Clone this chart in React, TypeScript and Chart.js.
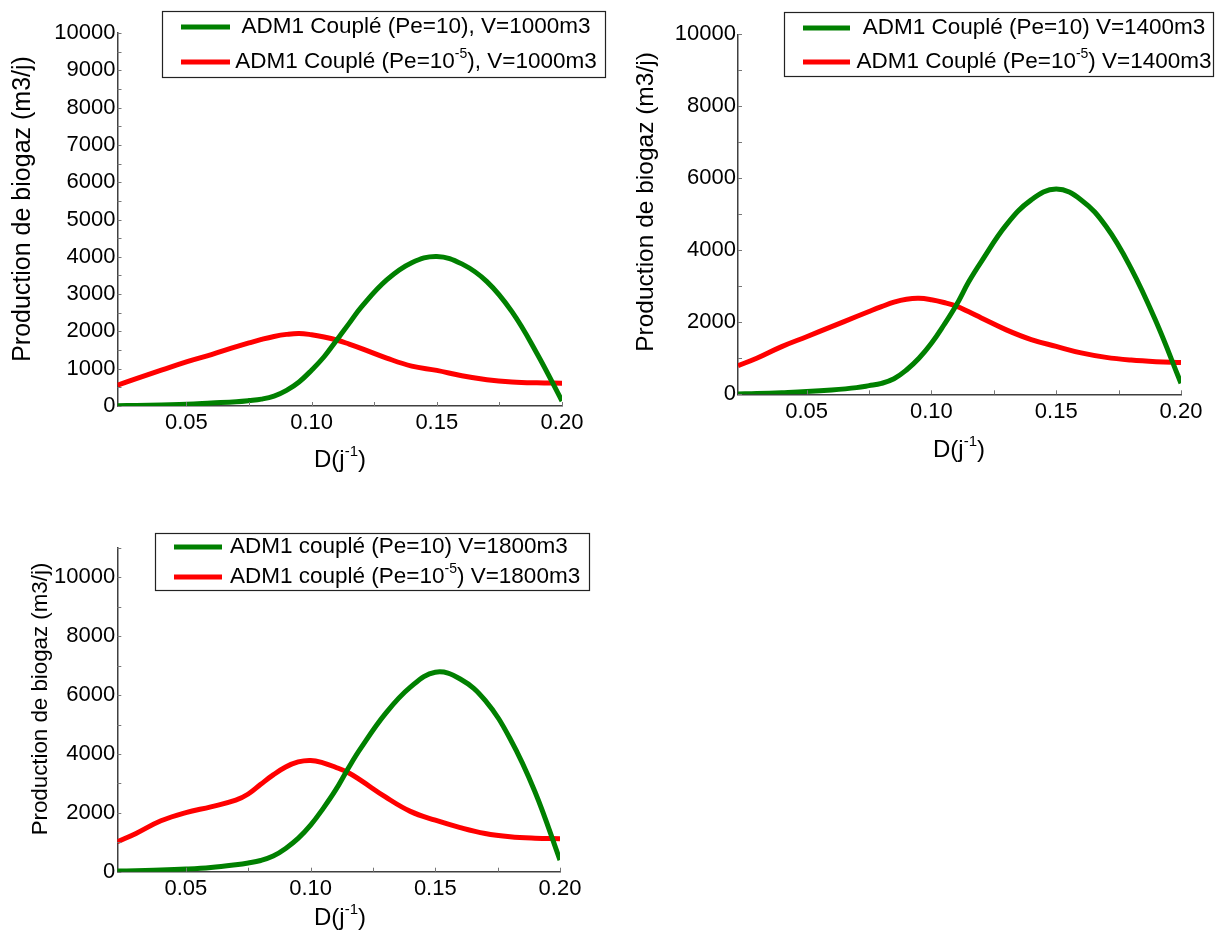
import React, { useEffect, useRef } from "react";
import { Chart, registerables } from "chart.js";

Chart.register(...registerables);

const FONT = "'Liberation Sans', Arial, sans-serif";

// Dilution rate D (j^-1)
const D = [0.0225, 0.03, 0.04, 0.05, 0.06, 0.07, 0.075, 0.08, 0.085, 0.09, 0.095, 0.1, 0.105, 0.11, 0.115, 0.12, 0.13, 0.14, 0.15, 0.16, 0.17, 0.18, 0.19, 0.2];

// V = 1000 m3
const green1000 = [10, 15, 30, 45, 80, 115, 145, 185, 265, 420, 645, 960, 1320, 1765, 2215, 2665, 3380, 3840, 4010, 3810, 3335, 2530, 1410, 135];
const red1000 = [560, 735, 960, 1185, 1380, 1590, 1690, 1785, 1865, 1920, 1945, 1910, 1850, 1770, 1660, 1540, 1285, 1070, 955, 810, 705, 645, 620, 612];
// V = 1400 m3
const green1400 = [10, 20, 45, 75, 120, 185, 240, 305, 430, 675, 1000, 1415, 1925, 2480, 3130, 3685, 4705, 5400, 5700, 5400, 4660, 3500, 2020, 305];
const red1400 = [795, 1000, 1325, 1600, 1880, 2160, 2300, 2435, 2560, 2640, 2665, 2625, 2550, 2450, 2290, 2120, 1790, 1520, 1330, 1150, 1025, 950, 905, 880];
// V = 1800 m3
const green1800 = [20, 35, 55, 90, 145, 235, 295, 380, 530, 790, 1130, 1580, 2145, 2770, 3500, 4180, 5370, 6270, 6780, 6550, 5820, 4520, 2710, 395];
const red1800 = [1015, 1300, 1730, 2010, 2205, 2430, 2640, 2970, 3290, 3560, 3730, 3780, 3700, 3550, 3370, 3110, 2540, 2050, 1750, 1500, 1300, 1190, 1140, 1120];

const xTickValues = [0.05, 0.1, 0.15, 0.2];
const xTickLabels = ["0.05", "0.10", "0.15", "0.20"];
const xMinorTicks = [0.075, 0.125, 0.175];

const yTicks1000 = [0, 1000, 2000, 3000, 4000, 5000, 6000, 7000, 8000, 9000, 10000];
const yLabels1000 = ["0", "1000", "2000", "3000", "4000", "5000", "6000", "7000", "8000", "9000", "10000"];
const yTicks2000 = [0, 2000, 4000, 6000, 8000, 10000];
const yLabels2000 = ["0", "2000", "4000", "6000", "8000", "10000"];

const legend1000 = ["ADM1 Couplé (Pe=10), V=1000m3", "ADM1 Couplé (Pe=10^{-5}), V=1000m3"];
const legend1400 = ["ADM1 Couplé (Pe=10) V=1400m3", "ADM1 Couplé (Pe=10^{-5}) V=1400m3"];
const legend1800 = ["ADM1 couplé (Pe=10) V=1800m3", "ADM1 couplé (Pe=10^{-5}) V=1800m3"];

const xTitle = "D(j^{-1})";
const yTitle = "Production de biogaz (m3/j)";

const GREEN = "#008000";
const RED = "#ff0000";

type Part = { t: string; sup: boolean };
function parseSup(s: string): Part[] {
  const parts: Part[] = [];
  const re = /\^\{([^}]*)\}/g;
  let last = 0;
  let m: RegExpExecArray | null;
  while ((m = re.exec(s))) {
    if (m.index > last) parts.push({ t: s.slice(last, m.index), sup: false });
    parts.push({ t: m[1], sup: true });
    last = re.lastIndex;
  }
  if (last < s.length) parts.push({ t: s.slice(last), sup: false });
  return parts;
}

function drawRich(ctx: CanvasRenderingContext2D, s: string, x: number, y: number, size: number, align: string) {
  const parts = parseSup(s);
  const supSize = Math.round(size * 0.62);
  const widths = parts.map((p) => {
    ctx.font = `${p.sup ? supSize : size}px ${FONT}`;
    return ctx.measureText(p.t).width;
  });
  const total = widths.reduce((a, b) => a + b, 0);
  let cx = align === "center" ? x - total / 2 : align === "right" ? x - total : x;
  ctx.textBaseline = "middle";
  ctx.textAlign = "left";
  ctx.fillStyle = "#000";
  parts.forEach((p, i) => {
    ctx.font = `${p.sup ? supSize : size}px ${FONT}`;
    ctx.fillText(p.t, cx, p.sup ? y - size * 0.36 : y);
    cx += widths[i];
  });
}

type PanelCfg = {
  canvas: { left: number; top: number; w: number; h: number };
  area: { left: number; right: number; top: number; bottom: number };
  yMax: number;
  yTicks: number[];
  yLabels: string[];
  yMinor: number;
  green: number[];
  red: number[];
  labels: string[];
  legend: { box: number[]; line: number[]; rows: number[]; textX: number; align: string; size: number };
  yTitlePos: { x: number; y: number; size: number };
  xTitlePos: { x: number; y: number; size: number };
};

const panels: PanelCfg[] = [
  {
    canvas: { left: 0, top: 0, w: 615, h: 480 },
    area: { left: 117.5, right: 562, top: 33, bottom: 406 },
    yMax: 10000,
    yTicks: yTicks1000,
    yLabels: yLabels1000,
    yMinor: 500,
    green: green1000,
    red: red1000,
    labels: legend1000,
    legend: { box: [162, 11, 605, 77], line: [181, 230], rows: [27, 62], textX: 416, align: "center", size: 22.5 },
    yTitlePos: { x: 23, y: 209, size: 25 },
    xTitlePos: { x: 340, y: 460, size: 24 },
  },
  {
    canvas: { left: 615, top: 0, w: 602, h: 480 },
    area: { left: 123, right: 566, top: 34.3, bottom: 394.3 },
    yMax: 10000,
    yTicks: yTicks2000,
    yLabels: yLabels2000,
    yMinor: 1000,
    green: green1400,
    red: red1400,
    labels: legend1400,
    legend: { box: [169, 12, 598, 76], line: [188, 235], rows: [28, 62], textX: 419, align: "center", size: 22.5 },
    yTitlePos: { x: 31, y: 202, size: 24.5 },
    xTitlePos: { x: 344, y: 450, size: 24 },
  },
  {
    canvas: { left: 0, top: 480, w: 615, h: 454 },
    area: { left: 117.3, right: 560, top: 68, bottom: 391.7 },
    yMax: 11000,
    yTicks: yTicks2000,
    yLabels: yLabels2000,
    yMinor: 1000,
    green: green1800,
    red: red1800,
    labels: legend1800,
    legend: { box: [155, 53, 589, 110], line: [174, 222], rows: [67, 97], textX: 230, align: "left", size: 22.5 },
    yTitlePos: { x: 41, y: 219, size: 22.3 },
    xTitlePos: { x: 340, y: 438, size: 24 },
  },
];

function makeDecor(cfg: PanelCfg) {
  return {
    id: "decor",
    afterDraw(chart: any) {
      const ctx: CanvasRenderingContext2D = chart.ctx;
      const xs = chart.scales.x;
      const ys = chart.scales.y;
      const ca = chart.chartArea;
      ctx.save();
      ctx.strokeStyle = "#777";
      ctx.lineWidth = 1;
      for (let v = 0; v <= cfg.yMax + 1e-6; v += cfg.yMinor) {
        const py = Math.round(ys.getPixelForValue(v)) + 0.5;
        ctx.beginPath();
        ctx.moveTo(ca.left, py);
        ctx.lineTo(ca.left + 4, py);
        ctx.stroke();
      }
      [...xTickValues, ...xMinorTicks].forEach((v) => {
        const px = Math.round(xs.getPixelForValue(v)) + 0.5;
        ctx.beginPath();
        ctx.moveTo(px, ca.bottom);
        ctx.lineTo(px, ca.bottom - 4);
        ctx.stroke();
      });

      const lg = cfg.legend;
      const [bx1, by1, bx2, by2] = lg.box;
      ctx.fillStyle = "#fff";
      ctx.fillRect(bx1, by1, bx2 - bx1, by2 - by1);
      ctx.strokeStyle = "#222";
      ctx.lineWidth = 1.2;
      ctx.strokeRect(bx1 + 0.5, by1 + 0.5, bx2 - bx1, by2 - by1);
      chart.data.datasets.forEach((ds: any, i: number) => {
        const ry = lg.rows[i];
        ctx.strokeStyle = ds.borderColor;
        ctx.lineWidth = 5;
        ctx.beginPath();
        ctx.moveTo(lg.line[0], ry);
        ctx.lineTo(lg.line[1], ry);
        ctx.stroke();
        drawRich(ctx, ds.label, lg.textX, ry, lg.size, lg.align);
      });

      drawRich(ctx, xTitle, cfg.xTitlePos.x, cfg.xTitlePos.y, cfg.xTitlePos.size, "center");
      ctx.save();
      ctx.translate(cfg.yTitlePos.x, cfg.yTitlePos.y);
      ctx.rotate(-Math.PI / 2);
      drawRich(ctx, yTitle, 0, 0, cfg.yTitlePos.size, "center");
      ctx.restore();
      ctx.restore();
    },
  };
}

function Panel({ cfg }: { cfg: PanelCfg }) {
  const ref = useRef<HTMLCanvasElement | null>(null);
  useEffect(() => {
    if (!ref.current) return;
    const a = cfg.area;
    const c = cfg.canvas;
    const chart = new Chart(ref.current, {
      type: "line",
      data: {
        labels: D,
        datasets: [
          {
            label: cfg.labels[0],
            data: D.map((d, i) => ({ x: d, y: cfg.green[i] })),
            borderColor: GREEN,
            backgroundColor: GREEN,
            borderWidth: 5,
            pointRadius: 0,
            fill: false,
            tension: 0.4,
          },
          {
            label: cfg.labels[1],
            data: D.map((d, i) => ({ x: d, y: cfg.red[i] })),
            borderColor: RED,
            backgroundColor: RED,
            borderWidth: 5,
            pointRadius: 0,
            fill: false,
            tension: 0.4,
          },
        ],
      },
      options: {
        responsive: false,
        animation: false,
        devicePixelRatio: 1,
        layout: { padding: { left: 0, top: a.top, right: c.w - a.right, bottom: 0 } },
        plugins: { legend: { display: false }, tooltip: { enabled: false }, title: { display: false } },
        scales: {
          x: {
            type: "linear",
            min: D[0],
            max: D[D.length - 1],
            afterBuildTicks: (s: any) => {
              s.ticks = xTickValues.map((v) => ({ value: v }));
            },
            afterFit: (s: any) => {
              s.height = c.h - a.bottom;
            },
            ticks: {
              callback: (_v: any, i: number) => xTickLabels[i],
              font: { family: FONT, size: 22 },
              color: "#000",
              padding: 4,
              maxRotation: 0,
              autoSkip: false,
            },
            grid: { display: false, drawTicks: false },
            border: { display: true, color: "#404040", width: 1.5 },
          },
          y: {
            type: "linear",
            min: 0,
            max: cfg.yMax,
            afterBuildTicks: (s: any) => {
              s.ticks = cfg.yTicks.map((v) => ({ value: v }));
            },
            afterFit: (s: any) => {
              s.width = a.left;
            },
            ticks: {
              callback: (_v: any, i: number) => cfg.yLabels[i],
              font: { family: FONT, size: 22 },
              color: "#000",
              padding: 2,
              autoSkip: false,
            },
            grid: { display: false, drawTicks: false },
            border: { display: true, color: "#404040", width: 1.5 },
          },
        },
      } as any,
      plugins: [makeDecor(cfg)],
    });
    return () => chart.destroy();
  }, [cfg]);
  return (
    <canvas
      ref={ref}
      width={cfg.canvas.w}
      height={cfg.canvas.h}
      style={{ position: "absolute", left: cfg.canvas.left, top: cfg.canvas.top, width: cfg.canvas.w, height: cfg.canvas.h }}
    />
  );
}

export default function App() {
  return (
    <div style={{ position: "absolute", left: 0, top: 0, width: 1217, height: 934, background: "#fff" }}>
      {panels.map((p, i) => (
        <Panel key={i} cfg={p} />
      ))}
    </div>
  );
}
